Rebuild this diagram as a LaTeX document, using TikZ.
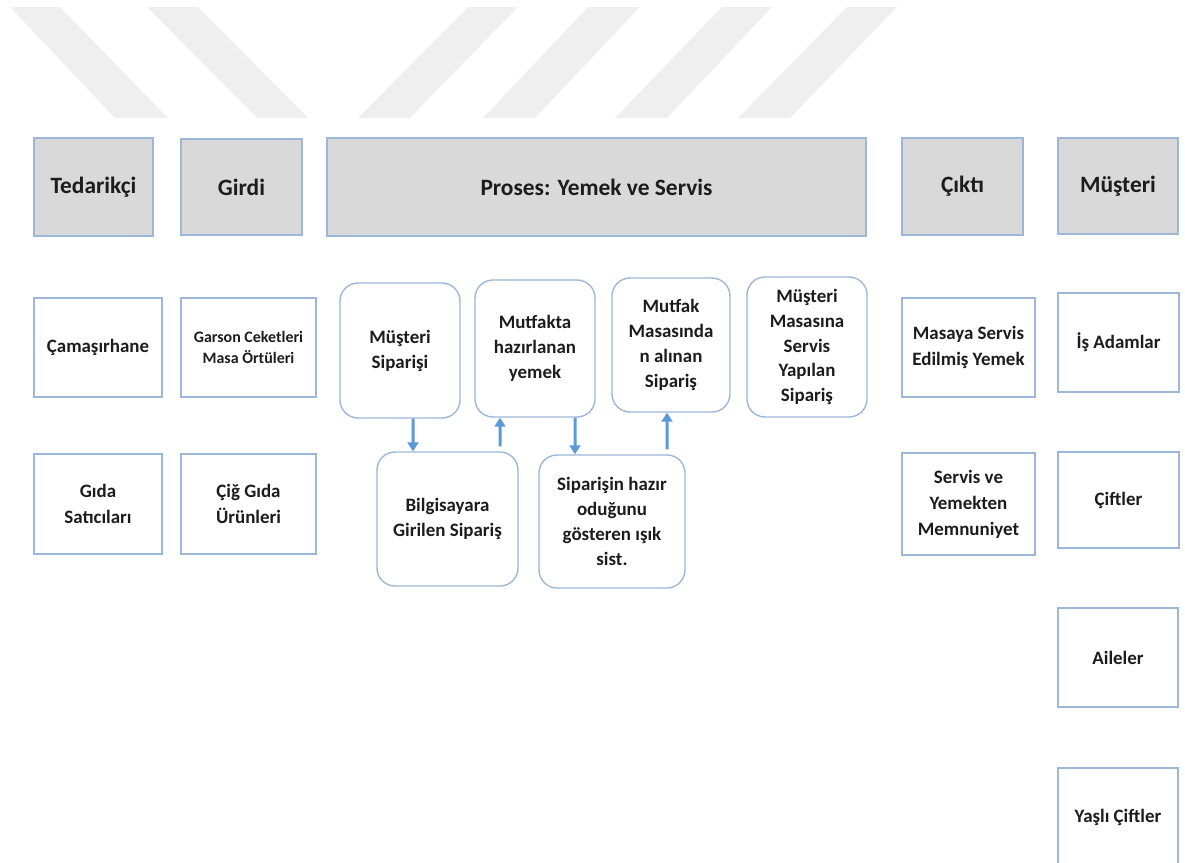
\documentclass[tikz,border=0pt]{standalone}
\usepackage{fontspec}
\setmainfont{Carlito}
\usetikzlibrary{arrows.meta}
\definecolor{edge}{HTML}{9DB7D8}
\definecolor{headfill}{HTML}{D9D9D9}
\definecolor{stripe}{HTML}{EFEFEF}
\definecolor{flow}{HTML}{5B9BD5}
\definecolor{ink}{HTML}{1C1C1C}
\begin{document}
\begin{tikzpicture}[x=1bp,y=-1bp,
  sz/.style 2 args={minimum width=#1bp, minimum height=#2bp},
  box/.style={draw=edge, line width=1.4bp, align=center, inner sep=2bp, text=ink,
    font=\bfseries\fontsize{19}{26}\selectfont},
  head/.style={box, fill=headfill, font=\bfseries\fontsize{23.5}{28}\selectfont},
  rbox/.style={box, rounded corners=18bp, font=\bfseries\fontsize{19}{25}\selectfont},
  arr/.style={draw=flow, line width=3bp, -{Triangle[width=11bp,length=9bp]}}]

\useasboundingbox (0,0) rectangle (1185,863);
\clip (0,0) rectangle (1185,863);

% light diagonal band pattern along the top edge
\foreach \a/\b/\c/\d in {10/60/168/115, 147/198/308/257}
  \fill[stripe] (\a,7) -- (\b,7) -- (\c,118) -- (\d,118) -- cycle;
\foreach \a/\b/\c/\d in {468/518/410/358, 588/640/535/483, 722/772/667/615, 847/897/790/738}
  \fill[stripe] (\a,7) -- (\b,7) -- (\c,118) -- (\d,118) -- cycle;

% column headers
\node[head, sz={119}{98}] (ted)  at (93.5,187)  {Tedarikçi};
\node[head, sz={121}{96}] (gir)  at (241.5,187) {Girdi};
\node[head, sz={539}{98}] (pro)  at (596.5,187) {Proses: Yemek ve Servis};
\node[head, sz={121}{97}] (cik)  at (962.5,186.5) {Çıktı};
\node[head, sz={120}{96}] (mus)  at (1118,186)  {Müşteri};

% suppliers and inputs
\node[box, sz={128}{99}]  (cam)  at (98,347.5)  {Çamaşırhane};
\node[box, sz={135}{99}, font=\bfseries\fontsize{16}{22}\selectfont]
                          (gar)  at (248.5,347.5) {Garson Ceketleri\\Masa Örtüleri};
\node[box, sz={128}{100}] (gsat) at (98,504)    {Gıda\\Satıcıları};
\node[box, sz={135}{100}] (cig)  at (248.5,504) {Çiğ Gıda\\Ürünleri};

% process steps
\node[rbox, sz={120}{135}] (msip) at (400,350.5) {Müşteri\\Siparişi};
\node[rbox, sz={120}{137}] (mhaz) at (535,348.5) {Mutfakta\\hazırlanan\\yemek};
\node[rbox, sz={118}{134}] (mmas) at (671,345)   {Mutfak\\Masasında\\n alınan\\Sipariş};
\node[rbox, sz={120}{140}] (mser) at (807,347)   {Müşteri\\Masasına\\Servis\\Yapılan\\Sipariş};
\node[rbox, sz={141}{134}] (bil)  at (447.5,519) {Bilgisayara\\Girilen Sipariş};
\node[rbox, sz={146}{133}] (isik) at (612,521.5) {Siparişin hazır\\oduğunu\\gösteren ışık\\sist.};

% outputs
\node[box, sz={133}{99}]  (mas)  at (968.5,347.5) {Masaya Servis\\Edilmiş Yemek};
\node[box, sz={133}{102}] (mem)  at (968.5,504)   {Servis ve\\Yemekten\\Memnuniyet};

% customers
\node[box, sz={121}{99}]  (is)   at (1118.5,342.5) {İş Adamlar};
\node[box, sz={121}{96}]  (cif)  at (1118.5,500)   {Çiftler};
\node[box, sz={120}{99}]  (ail)  at (1118,657.5)   {Aileler};
\node[box, sz={120}{99}]  (yas)  at (1118,817.5)   {Yaşlı Çiftler};

% flow between process steps
\draw[arr] ([xshift=13bp]msip.south) -- ([xshift=-34.5bp]bil.north);
\draw[arr] ([xshift=52.5bp,yshift=5bp]bil.north) -- ([xshift=-35bp]mhaz.south);
\draw[arr] ([xshift=40bp]mhaz.south) -- ([xshift=-37bp]isik.north);
\draw[arr] ([xshift=55bp,yshift=5bp]isik.north) -- ([xshift=-4bp]mmas.south);
\end{tikzpicture}
\end{document}
